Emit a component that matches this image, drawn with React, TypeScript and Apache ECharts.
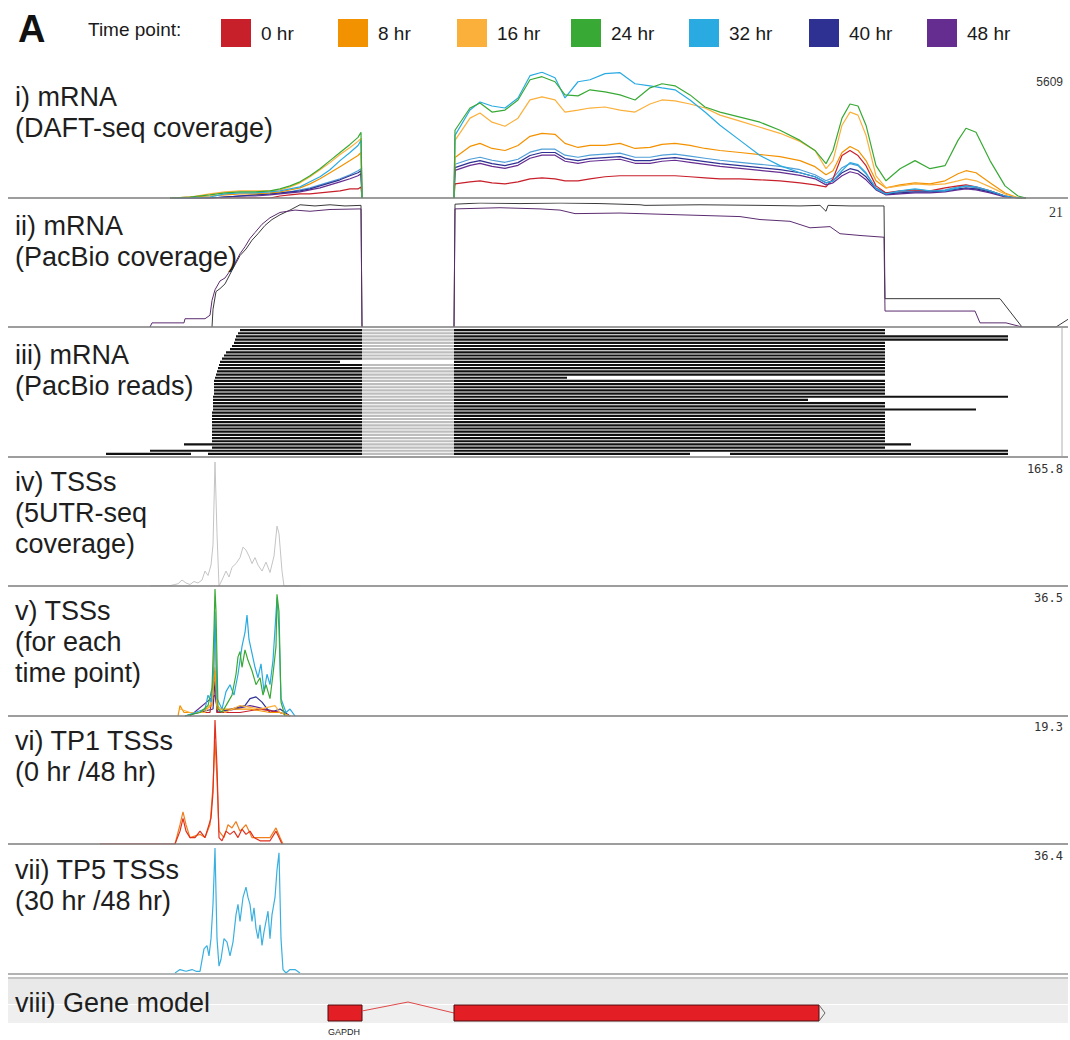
import React, { useEffect, useRef } from 'react';
import * as echarts from 'echarts';

// ---------------- data ----------------
const TIME_POINTS = ['0 hr', '8 hr', '16 hr', '24 hr', '32 hr', '40 hr', '48 hr'];
const TIME_COLORS = ['#c8202b', '#f39200', '#fbb03b', '#39a935', '#29abe2', '#2e3192', '#662d91'];

// panel maxima (printed top-right of each track)
const TRACK_MAX = [5609, 21, 165.8, 36.5, 19.3, 36.4];

// gene model (positions along the locus)
const GENE_NAME = 'GAPDH';
const EXONS = [
  [328, 362],
  [454, 819],
];

// i) DAFT-seq coverage, exon 1
const DAFT_POS_E1 = [170, 190, 210, 225, 240, 255, 270, 280, 290, 300, 310, 320, 330, 340, 350, 358, 361, 362];
const DAFT_E1_0 = [0, 0, 0, 0, 0, 0, 0, 90, 135, 180, 180, 225, 270, 315, 405, 405, 495, 0];
const DAFT_E1_8 = [0, 45, 90, 135, 180, 180, 225, 270, 360, 450, 630, 855, 1125, 1395, 1665, 1890, 2025, 0];
const DAFT_E1_16 = [0, 45, 180, 270, 315, 315, 315, 360, 495, 675, 945, 1260, 1575, 1935, 2250, 2520, 2655, 0];
const DAFT_E1_24 = [0, 45, 135, 225, 270, 270, 315, 405, 540, 720, 990, 1305, 1665, 2025, 2385, 2700, 2925, 0];
const DAFT_E1_32 = [0, 0, 45, 180, 225, 225, 270, 315, 405, 495, 720, 945, 1260, 1665, 2025, 2340, 2565, 0];
const DAFT_E1_32B = [0, 0, 0, 45, 90, 135, 180, 225, 270, 360, 450, 585, 720, 855, 1035, 1215, 1305, 0];
const DAFT_E1_40 = [0, 0, 0, 45, 90, 135, 180, 225, 270, 315, 405, 540, 675, 810, 990, 1125, 1215, 0];
const DAFT_E1_48 = [0, 0, 0, 45, 90, 90, 135, 180, 225, 270, 360, 450, 585, 720, 855, 990, 1080, 0];

// i) DAFT-seq coverage, exon 2 and 3'UTR
const DAFT_POS_E2 = [454, 455, 470, 480, 492, 505, 518, 530, 542, 555, 565, 578, 590, 605, 620, 635, 650, 662, 675, 690, 705, 720, 740, 760, 780, 800, 815, 826, 833, 842, 850, 858, 866, 876, 886, 900, 915, 930, 945, 958, 966, 976, 990, 1005, 1018, 1026];
const DAFT_E2_0 = [0, 630, 720, 765, 675, 630, 720, 855, 900, 855, 765, 765, 855, 945, 990, 990, 990, 990, 990, 945, 900, 855, 855, 810, 765, 675, 585, 495, 855, 1890, 2115, 1890, 1440, 540, 225, 315, 360, 315, 450, 540, 585, 495, 315, 90, 0, 0];
const DAFT_E2_8 = [0, 1800, 2295, 2430, 2205, 2115, 2340, 2745, 2880, 2835, 2430, 2250, 2340, 2340, 2430, 2205, 2250, 2385, 2430, 2340, 2205, 2115, 2025, 1935, 1845, 1665, 1395, 1035, 1215, 2025, 2295, 2115, 1665, 765, 450, 585, 675, 630, 765, 1080, 1215, 1125, 675, 225, 0, 0];
const DAFT_E2_16 = [0, 2565, 3555, 3780, 3375, 3195, 3555, 4365, 4500, 4365, 3825, 3915, 4005, 4050, 3915, 3825, 4185, 4365, 4320, 4185, 4005, 3690, 3420, 3150, 2880, 2520, 2115, 1305, 1665, 3240, 3825, 3690, 2790, 990, 450, 540, 630, 585, 630, 765, 855, 765, 495, 180, 0, 0];
const DAFT_E2_24 = [0, 3015, 4005, 4230, 3825, 3915, 4365, 5265, 5400, 5175, 4590, 4545, 4815, 4725, 4590, 4365, 4905, 5085, 4995, 4590, 4050, 3825, 3600, 3375, 3015, 2565, 2115, 1530, 2115, 3555, 4185, 4095, 3240, 1440, 765, 1305, 1665, 1305, 1440, 2565, 3105, 2925, 1665, 540, 90, 0];
const DAFT_E2_32 = [0, 2790, 3915, 4275, 4095, 4005, 4455, 5445, 5600, 5355, 4455, 5175, 5265, 5535, 5580, 5085, 4995, 4905, 4815, 4365, 3825, 3240, 2565, 1890, 1440, 1125, 945, 675, 765, 1215, 1575, 1485, 1125, 405, 180, 315, 405, 315, 315, 450, 540, 495, 315, 90, 0, 0];
const DAFT_E2_32B = [0, 1500, 1725, 1815, 1680, 1590, 1725, 2040, 2175, 2175, 1905, 1815, 1905, 1950, 1995, 1815, 1815, 1905, 1950, 1860, 1770, 1680, 1590, 1500, 1410, 1260, 1035, 765, 900, 1350, 1530, 1440, 1080, 450, 225, 270, 315, 315, 360, 495, 540, 450, 315, 90, 0, 0];
const DAFT_E2_40 = [0, 1350, 1575, 1665, 1530, 1440, 1575, 1890, 2025, 2025, 1755, 1665, 1755, 1800, 1845, 1665, 1665, 1755, 1800, 1710, 1620, 1530, 1440, 1350, 1260, 1125, 945, 675, 765, 1125, 1305, 1215, 945, 405, 180, 225, 270, 270, 315, 405, 450, 405, 270, 90, 0, 0];
const DAFT_E2_48 = [0, 1230, 1455, 1545, 1410, 1320, 1455, 1770, 1905, 1905, 1635, 1545, 1635, 1680, 1725, 1545, 1545, 1635, 1680, 1590, 1500, 1410, 1320, 1230, 1140, 1005, 855, 585, 675, 990, 1170, 1080, 810, 360, 135, 180, 225, 225, 270, 360, 405, 360, 225, 45, 0, 0];

// ii) PacBio coverage
const PB_A_POS_E1 = [212, 213, 216, 220, 225, 232, 240, 246, 252, 258, 265, 272, 280, 290, 300, 315, 330, 345, 361, 362];
const PB_A_E1 = [0, 3, 6, 6.5, 7.3, 9.6, 12.1, 13.2, 14.7, 15.8, 17.2, 18.2, 19, 19.8, 20.7, 20.5, 20.7, 20.5, 20.6, 0];
const PB_B_POS_E1 = [150, 152, 184, 185, 205, 210, 212, 215, 220, 225, 230, 235, 240, 245, 250, 255, 262, 270, 280, 295, 310, 330, 361, 362];
const PB_B_E1 = [0, 0.7, 0.7, 1.4, 1.4, 2, 4.5, 6.3, 7.8, 8.3, 9.5, 10.8, 12.4, 13.6, 15, 16, 17.4, 18.5, 19.4, 19.8, 19.6, 19.9, 20, 0];
const PB_A_POS_E2 = [454, 455, 480, 520, 560, 600, 640, 645, 700, 760, 800, 820, 826, 828, 850, 884, 885, 1000, 1022, 1056, 1068];
const PB_A_E2 = [0, 20.8, 21, 20.9, 21, 20.9, 20.7, 20.6, 20.7, 20.6, 20.5, 20.6, 19.6, 20.6, 20.5, 20.5, 4.8, 4.8, 0, 0, 1.3];
const PB_B_POS_E2 = [454, 455, 500, 540, 560, 575, 620, 660, 700, 740, 760, 790, 810, 830, 840, 860, 884, 885, 975, 980, 1006, 1022];
const PB_B_E2 = [0, 20, 20.2, 20, 19.8, 19.2, 19.3, 19.1, 18.9, 18.7, 18.2, 17.9, 16.8, 17, 15.8, 15.5, 15.2, 2.7, 2.7, 0.7, 0.7, 0];

// iii) PacBio reads: [row, start, end]
const READ_ROWS = 40;
const READS = [
  [0, 240, 885], [1, 238, 885], [2, 236, 1008], [3, 235, 1008], [4, 234, 885], [5, 232, 885],
  [6, 230, 885], [7, 226, 885], [8, 224, 885], [9, 222, 885], [10, 220, 340], [10, 454, 885],
  [11, 219, 885], [12, 218, 885], [13, 217, 885], [14, 216, 885], [15, 215, 567], [16, 214, 885],
  [17, 214, 885], [18, 214, 885], [19, 214, 885], [20, 214, 885], [21, 213, 1008], [22, 213, 808],
  [23, 213, 885], [24, 213, 885], [25, 213, 976], [26, 212, 885], [27, 212, 885], [28, 212, 885],
  [29, 212, 885], [30, 212, 885], [31, 212, 885], [32, 212, 885], [33, 212, 885], [34, 212, 885],
  [35, 212, 885], [36, 184, 911], [37, 212, 885], [38, 150, 1008], [39, 106, 191], [39, 208, 690],
  [39, 730, 1008],
];

// iv) 5UTR-seq coverage (all time points)
const TSS_ALL_POS = [150, 170, 178, 182, 186, 190, 194, 198, 202, 205, 208, 211, 213, 215, 217, 219, 222, 226, 229, 232, 236, 240, 243, 246, 249, 252, 255, 258, 262, 266, 270, 274, 277, 279, 282, 284, 300];
const TSS_ALL = [0, 0.5, 3, 8, 4, 2, 6, 4, 8, 20, 14, 28, 55, 165.8, 70, 0, 8, 20, 12, 25, 30, 38, 52, 48, 40, 30, 38, 28, 20, 32, 18, 40, 80, 70, 20, 0, 0];

// v) TSSs for each time point
const TSS0_POS = [185, 210, 215, 217, 240, 260, 280, 290];
const TSS0 = [1, 1, 13, 1, 1, 2, 1, 0];
const TSS8_POS = [178, 180, 184, 200, 212, 215, 217, 230, 250, 270, 280, 290];
const TSS8 = [0, 3, 1, 1, 3, 14, 2, 2, 2, 1, 1, 0];
const TSS16_POS = [180, 190, 205, 212, 214, 215, 217, 225, 240, 260, 275, 280, 290];
const TSS16 = [2, 1, 1, 4, 18, 22, 3, 1, 3, 2, 3, 1, 0];
const TSS24_POS = [185, 200, 208, 212, 214, 215, 216, 218, 222, 228, 232, 236, 238, 240, 242, 245, 248, 252, 256, 260, 263, 266, 270, 273, 276, 277, 279, 281, 285];
const TSS24 = [0, 1, 3, 8, 25, 36.5, 30, 2, 1, 4, 6, 12, 17, 18.5, 14, 19, 16, 13, 9, 11, 6, 9, 5, 12, 20, 35, 30, 4, 0];
const TSS32_POS = [185, 205, 208, 211, 214, 215, 217, 222, 226, 230, 234, 238, 242, 245, 247, 249, 252, 255, 258, 261, 264, 267, 270, 273, 277, 279, 281, 286, 290, 295];
const TSS32 = [0, 2, 6, 4, 14, 30, 5, 2, 7, 9, 6, 12, 20, 24, 29, 22, 18, 14, 11, 15, 7, 12, 9, 16, 34, 25, 5, 1, 2, 0];
const TSS40_POS = [185, 213, 215, 217, 245, 250, 256, 262, 270, 280, 290];
const TSS40 = [0, 2, 10, 1, 3, 5, 5.5, 4, 1, 2, 0];
const TSS48_POS = [190, 215, 218, 235, 250, 265, 280, 290];
const TSS48 = [0, 6, 1, 2, 3, 2, 1, 0];

// vi) TP1 TSSs (0 hr / 48 hr)
const TP1_A_POS = [100, 175, 180, 183, 186, 190, 195, 200, 205, 208, 211, 213, 215, 217, 219, 222, 226, 230, 234, 238, 242, 246, 250, 254, 260, 266, 270, 276, 279, 282];
const TP1_A = [0, 0, 2, 4, 2, 1, 1, 2, 1, 2.5, 4, 8, 19.3, 12, 1, 0.5, 2, 1.5, 2, 1, 2.3, 1.5, 2, 1, 0.5, 0.5, 0.5, 2, 1, 0];
const TP1_B_POS = [175, 180, 183, 186, 190, 200, 205, 210, 213, 215, 217, 219, 224, 228, 232, 236, 240, 246, 252, 262, 270, 276, 280, 283];
const TP1_B = [0, 3, 5, 3, 1, 1.5, 1, 3, 9, 16, 10, 2, 1, 3, 2.5, 3.5, 2, 3, 1, 1, 1, 2.5, 1, 0];

// vii) TP5 TSSs (30 hr / 48 hr)
const TP5_POS = [175, 180, 186, 192, 196, 200, 204, 207, 209, 211, 213, 215, 217, 219, 221, 224, 227, 230, 233, 236, 238, 240, 243, 246, 248, 250, 252, 254, 256, 258, 260, 262, 264, 266, 268, 270, 272, 275, 277, 279, 281, 283, 286, 290, 295, 300];
const TP5 = [0, 1, 0.5, 1, 0.5, 0.5, 7, 8, 5, 10, 20, 36.4, 10, 2, 4, 10, 9, 5, 9, 17, 20, 15, 22, 25, 22, 20, 15, 19, 13, 10, 14, 8, 12, 15, 18, 10, 17, 22, 30, 35, 10, 1, 0, 1, 1, 0];

// ---------------- layout ----------------
const W = 1070;
const H = 1040;
const X_MIN = 8;
const X_MAX = 1068;
const GRIDS = [
  { top: 72, height: 126 },
  { top: 203, height: 124 },
  { top: 329, height: 127 },
  { top: 462, height: 124 },
  { top: 589, height: 127 },
  { top: 720, height: 124 },
  { top: 848, height: 125 },
  { top: 1005, height: 16 },
];
const LEGEND_X = [216, 333, 452, 566, 684, 804, 922];
const SEPARATORS = [198, 327, 457, 586, 716, 844];
const TITLES = [
  'i) mRNA\n(DAFT-seq coverage)',
  'ii) mRNA\n(PacBio coverage)',
  'iii) mRNA\n(PacBio reads)',
  'iv) TSSs\n(5UTR-seq\ncoverage)',
  'v) TSSs\n(for each\ntime point)',
  'vi) TP1 TSSs\n(0 hr /48 hr)',
  'vii) TP5 TSSs\n(30 hr /48 hr)',
  'viii) Gene model',
];
const TITLE_Y = [97, 226, 355, 482, 611, 741, 870, 1003];
const MAX_LABEL_Y = [82, 212, 469, 598, 727, 856];
const MAX_LABEL_FONT = [
  '12px "Liberation Sans"',
  '14px "Liberation Serif"',
  '12px "DejaVu Sans Mono"',
  '12px "DejaVu Sans Mono"',
  '12px "DejaVu Sans Mono"',
  '12px "DejaVu Sans Mono"',
];
const SANS = '"Liberation Sans", Arial, sans-serif';

const pairs = (xs: number[], ys: number[]) => xs.map((x, i) => [x, ys[i]]);

function lineSeries(name: string, grid: number, xs: number[], ys: number[], color: string, width = 1, z = 2) {
  return {
    type: 'line',
    name,
    xAxisIndex: grid,
    yAxisIndex: grid,
    data: pairs(xs, ys),
    showSymbol: false,
    symbol: 'none',
    silent: true,
    z,
    lineStyle: { color, width },
    itemStyle: { color },
  };
}

function buildOption() {
  const c = TIME_COLORS;
  const series: any[] = [];

  // panel i
  const e1 = [DAFT_E1_0, DAFT_E1_8, DAFT_E1_16, DAFT_E1_24, DAFT_E1_32, DAFT_E1_40, DAFT_E1_48];
  const e2 = [DAFT_E2_0, DAFT_E2_8, DAFT_E2_16, DAFT_E2_24, DAFT_E2_32, DAFT_E2_40, DAFT_E2_48];
  const order = [0, 6, 5, 1, 2, 4, 3];
  series.push(lineSeries('32 hr (b)', 0, DAFT_POS_E1, DAFT_E1_32B, '#4f9fd8', 1.2, 2));
  series.push(lineSeries('32 hr (b)', 0, DAFT_POS_E2, DAFT_E2_32B, '#4f9fd8', 1.2, 2));
  order.forEach((k, j) => {
    series.push(lineSeries(TIME_POINTS[k], 0, DAFT_POS_E1, e1[k], c[k], 1.2, 3 + j));
    series.push(lineSeries(TIME_POINTS[k], 0, DAFT_POS_E2, e2[k], c[k], 1.2, 3 + j));
  });

  // panel ii
  series.push(lineSeries('PacBio coverage (all)', 1, PB_A_POS_E1, PB_A_E1, '#3a3a3a'));
  series.push(lineSeries('PacBio coverage (all)', 1, PB_A_POS_E2, PB_A_E2, '#3a3a3a'));
  series.push(lineSeries('PacBio coverage (full)', 1, PB_B_POS_E1, PB_B_E1, '#5b2c6f'));
  series.push(lineSeries('PacBio coverage (full)', 1, PB_B_POS_E2, PB_B_E2, '#5b2c6f'));

  // panel iii reads
  const intronStart = EXONS[0][1];
  const intronEnd = EXONS[1][0];
  series.push({
    type: 'custom',
    name: 'PacBio reads',
    xAxisIndex: 2,
    yAxisIndex: 2,
    silent: true,
    data: READS,
    encode: { x: [1, 2], y: 0 },
    renderItem: (params: any, api: any) => {
      const row = api.value(0);
      const s = api.value(1);
      const e = api.value(2);
      const top = api.coord([s, row])[1];
      const bot = api.coord([s, row + 1])[1];
      const h = Math.max(1, bot - top - 1);
      const seg = (a: number, b: number, fill: string) => {
        const p0 = api.coord([a, row]);
        const p1 = api.coord([b, row]);
        return { type: 'rect', shape: { x: p0[0], y: top, width: p1[0] - p0[0], height: h }, style: { fill } };
      };
      const children =
        s < intronStart && e > intronEnd
          ? [seg(s, intronStart, '#121212'), seg(intronStart, intronEnd, '#bdbdbd'), seg(intronEnd, e, '#121212')]
          : [seg(s, e, '#121212')];
      return { type: 'group', children };
    },
  });

  // panel iv
  series.push(lineSeries('5UTR-seq coverage', 3, TSS_ALL_POS, TSS_ALL, '#c4c4c4'));

  // panel v
  const tss = [
    [TSS0_POS, TSS0], [TSS8_POS, TSS8], [TSS16_POS, TSS16], [TSS24_POS, TSS24],
    [TSS32_POS, TSS32], [TSS40_POS, TSS40], [TSS48_POS, TSS48],
  ];
  [6, 5, 0, 1, 2, 4, 3].forEach((k, j) => {
    series.push(lineSeries(TIME_POINTS[k], 4, tss[k][0], tss[k][1], c[k], 1.2, 3 + j));
  });

  // panel vi
  series.push(lineSeries('TP1 (0 hr)', 5, TP1_B_POS, TP1_B, '#f07d1e', 1.2));
  series.push(lineSeries('TP1 (48 hr)', 5, TP1_A_POS, TP1_A, '#e0301e', 1.2, 3));

  // panel vii
  series.push(lineSeries('TP5 (30 hr)', 6, TP5_POS, TP5, '#3ab0e0', 1.2));

  // panel viii gene model
  series.push({
    type: 'custom',
    name: GENE_NAME,
    xAxisIndex: 7,
    yAxisIndex: 7,
    silent: true,
    data: EXONS,
    encode: { x: [0, 1] },
    renderItem: (params: any, api: any) => {
      const i = params.dataIndex;
      const s = api.value(0);
      const e = api.value(1);
      const p0 = api.coord([s, 1]);
      const p1 = api.coord([e, 0]);
      const midY = (p0[1] + p1[1]) / 2;
      const children: any[] = [
        {
          type: 'rect',
          shape: { x: p0[0], y: p0[1], width: p1[0] - p0[0], height: p1[1] - p0[1] },
          style: { fill: '#e41e25', stroke: '#4a0c0c', lineWidth: 1 },
        },
      ];
      if (i < EXONS.length - 1) {
        const next = EXONS[i + 1][0];
        const q = api.coord([next, 0.5]);
        const apex = api.coord([(e + next) / 2, 1]);
        children.push({
          type: 'polyline',
          shape: { points: [[p1[0], midY - 2], [apex[0], apex[1] - 3], [q[0], q[1]]] },
          style: { stroke: '#e04848', lineWidth: 1, fill: null },
        });
      }
      if (i === 0) {
        children.push({
          type: 'text',
          style: { text: GENE_NAME, x: p0[0], y: p1[1] + 6, font: '9px "Liberation Sans"', fill: '#222', align: 'left', verticalAlign: 'top' },
        });
      }
      if (i === EXONS.length - 1) {
        children.push({
          type: 'polyline',
          shape: { points: [[p1[0], p0[1]], [p1[0] + 6, midY], [p1[0], p1[1]]] },
          style: { stroke: '#666', lineWidth: 1, fill: null },
        });
      }
      return { type: 'group', children };
    },
  });

  const yMax = [TRACK_MAX[0], TRACK_MAX[1], READ_ROWS, TRACK_MAX[2], TRACK_MAX[3], TRACK_MAX[4], TRACK_MAX[5], 1];

  const graphic: any[] = [];
  // panel viii background
  graphic.push({ type: 'rect', shape: { x: 8, y: 979, width: 1060, height: 25 }, style: { fill: '#e9e9e9' }, z: -10 });
  graphic.push({ type: 'rect', shape: { x: 8, y: 1005, width: 1060, height: 18 }, style: { fill: '#efefef' }, z: -10 });
  graphic.push({ type: 'line', shape: { x1: 8, y1: 974, x2: 1068, y2: 974 }, style: { stroke: '#9a9a9a', lineWidth: 1.5 } });
  graphic.push({ type: 'line', shape: { x1: 8, y1: 978, x2: 1068, y2: 978 }, style: { stroke: '#b0b0b0', lineWidth: 1.5 } });
  SEPARATORS.forEach((y) => {
    graphic.push({ type: 'line', shape: { x1: 8, y1: y, x2: 1068, y2: y }, style: { stroke: '#7d7d7d', lineWidth: 1.5 }, z: 50 });
  });
  graphic.push({ type: 'line', shape: { x1: 1062, y1: 328, x2: 1062, y2: 456 }, style: { stroke: '#b0b0b0', lineWidth: 1 } });

  TITLES.forEach((t, i) => {
    graphic.push({
      type: 'text',
      x: 15,
      y: TITLE_Y[i] - 15.5,
      z: 60,
      style: { text: t, font: `27px ${SANS}`, fill: '#1e1e1e', lineHeight: 31, align: 'left', verticalAlign: 'top' },
    });
  });
  TRACK_MAX.forEach((m, i) => {
    graphic.push({
      type: 'text',
      x: 1063,
      y: MAX_LABEL_Y[i],
      z: 60,
      style: { text: String(m), font: MAX_LABEL_FONT[i], fill: '#333', align: 'right', verticalAlign: 'middle' },
    });
  });
  graphic.push({
    type: 'text', x: 18, y: 29, z: 60,
    style: { text: 'A', font: `bold 38px ${SANS}`, fill: '#111', align: 'left', verticalAlign: 'middle' },
  });
  graphic.push({
    type: 'text', x: 88, y: 29, z: 60,
    style: { text: 'Time point:', font: `19px ${SANS}`, fill: '#1a1a1a', align: 'left', verticalAlign: 'middle' },
  });

  const legend = TIME_POINTS.map((tp, i) => ({
    data: [tp],
    left: LEGEND_X[i],
    top: 14,
    icon: 'rect',
    itemWidth: 30,
    itemHeight: 28,
    selectedMode: false,
    itemStyle: { borderWidth: 0 },
    textStyle: {
      fontSize: 19,
      color: '#1a1a1a',
      fontFamily: SANS,
      padding: [0, 0, 0, 5],
    },
  }));

  return {
    animation: false,
    backgroundColor: '#ffffff',
    legend,
    grid: GRIDS.map((g) => ({ left: X_MIN, width: X_MAX - X_MIN, top: g.top, height: g.height, containLabel: false })),
    xAxis: GRIDS.map((g, i) => ({ gridIndex: i, type: 'value', min: X_MIN, max: X_MAX, show: false })),
    yAxis: GRIDS.map((g, i) => ({ gridIndex: i, type: 'value', min: 0, max: yMax[i], show: false, inverse: i === 2 })),
    series,
    graphic,
  };
}

export default function App() {
  const ref = useRef<HTMLDivElement>(null);
  useEffect(() => {
    if (!ref.current) return;
    const chart = echarts.init(ref.current, null, { renderer: 'svg' });
    chart.setOption(buildOption() as any);
    return () => chart.dispose();
  }, []);
  return (
    <div
      ref={ref}
      style={{ position: 'absolute', left: 0, top: 0, width: W, height: H, background: '#fff', overflow: 'hidden' }}
    />
  );
}
